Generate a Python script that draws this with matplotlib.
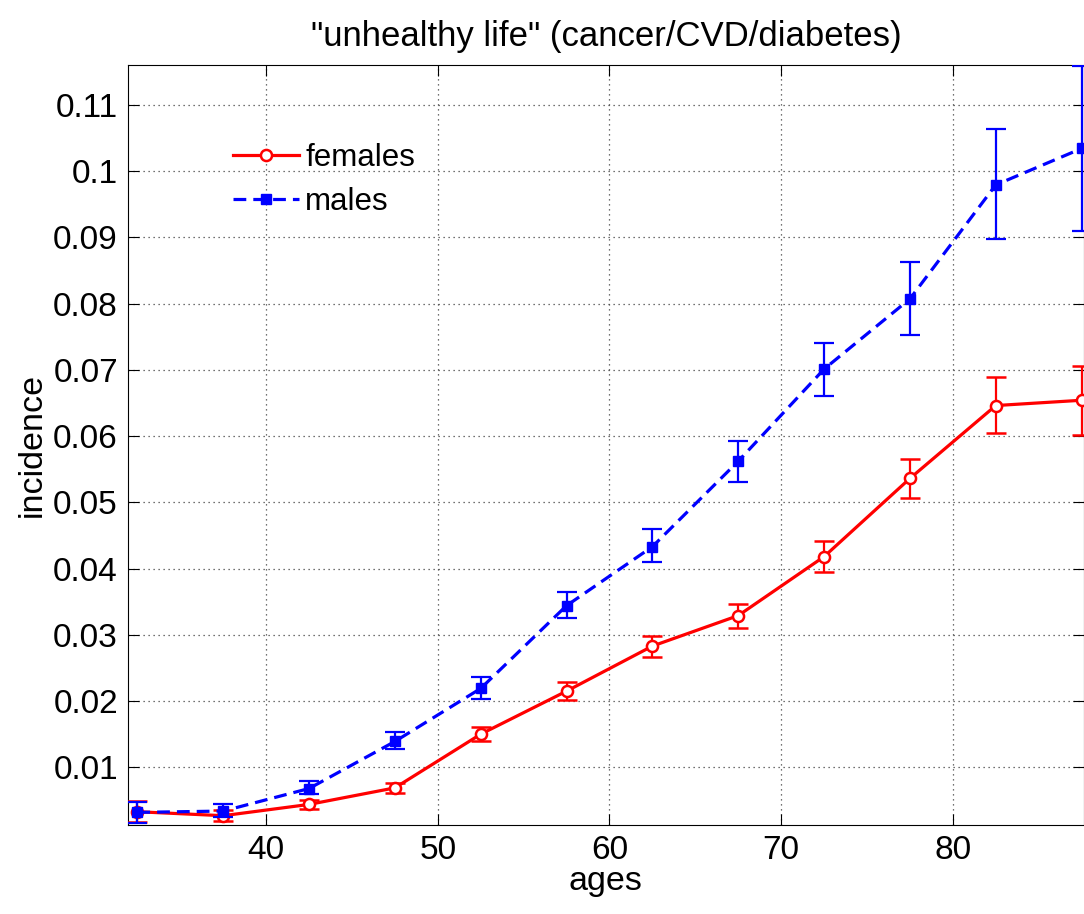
import numpy as np
import matplotlib.pyplot as plt

plt.rcParams['font.family'] = ['Liberation Sans', 'DejaVu Sans']

ages = [32.5, 37.5, 42.5, 47.5, 52.5, 57.5, 62.5, 67.5, 72.5, 77.5, 82.5, 87.5]

females = [0.0033, 0.0027, 0.0044, 0.0069, 0.0150, 0.0215, 0.0283, 0.0329,
           0.0418, 0.0536, 0.0646, 0.0654]
females_lo = [0.0017, 0.0019, 0.0037, 0.0061, 0.0140, 0.0202, 0.0267, 0.0311,
              0.0395, 0.0507, 0.0604, 0.0602]
females_hi = [0.0049, 0.0036, 0.0050, 0.0077, 0.0161, 0.0229, 0.0298, 0.0347,
              0.0441, 0.0565, 0.0689, 0.0705]

males = [0.0032, 0.0034, 0.0068, 0.0139, 0.0219, 0.0344, 0.0433, 0.0562,
         0.0701, 0.0807, 0.0979, 0.1034]
males_lo = [0.0016, 0.0025, 0.0059, 0.0127, 0.0203, 0.0325, 0.0410, 0.0531,
            0.0660, 0.0753, 0.0898, 0.0909]
males_hi = [0.0047, 0.0045, 0.0079, 0.0153, 0.0236, 0.0364, 0.0459, 0.0593,
            0.0741, 0.0863, 0.1064, 0.1159]

f = np.array(females)
m = np.array(males)
f_err = [f - np.array(females_lo), np.array(females_hi) - f]
m_err = [m - np.array(males_lo), np.array(males_hi) - m]

fig = plt.figure(figsize=(10.84, 9.14), dpi=100)
ax = fig.add_axes([0.1178, 0.0974, 0.8822, 0.8315])

fe = ax.errorbar(ages, females, yerr=f_err, color='red', lw=2.3, marker='o',
                 ms=8, mfc='white', mec='red', mew=1.8, capsize=7, capthick=1.6,
                 elinewidth=1.6, zorder=3)
ma = ax.errorbar(ages, males, yerr=m_err, color='blue', lw=2.3, ls='--', dashes=(4, 2.2),
                 marker='s', ms=7.5, mfc='blue', mec='blue', capsize=7, capthick=1.6,
                 elinewidth=1.6, zorder=4)

ax.set_xlim(31.94, 87.64)
ax.set_ylim(0.0013, 0.116)
ax.set_xticks([40, 50, 60, 70, 80])
ax.set_yticks([0.01, 0.02, 0.03, 0.04, 0.05, 0.06, 0.07, 0.08, 0.09, 0.1, 0.11])
ax.set_yticklabels(['0.01', '0.02', '0.03', '0.04', '0.05', '0.06', '0.07',
                    '0.08', '0.09', '0.1', '0.11'])
ax.tick_params(direction='in', length=8, labelsize=24, top=True, right=True, pad=7)
ax.grid(True, ls=(0, (1, 3)), color='#444444', lw=0.9)

ax.set_title('"unhealthy life" (cancer/CVD/diabetes)', fontsize=25, pad=14)
ax.set_xlabel('ages', fontsize=24.5, labelpad=0)
ax.set_ylabel('incidence', fontsize=24.5, labelpad=4)

ax.legend([fe[0], ma[0]], ['females', 'males'], loc='upper left',
          bbox_to_anchor=(0.110, 0.897), frameon=False, fontsize=22.5,
          handlelength=2.1, labelspacing=0.45, handletextpad=0.22,
          borderpad=0, borderaxespad=0)

fig.savefig('out.png', dpi=100)
